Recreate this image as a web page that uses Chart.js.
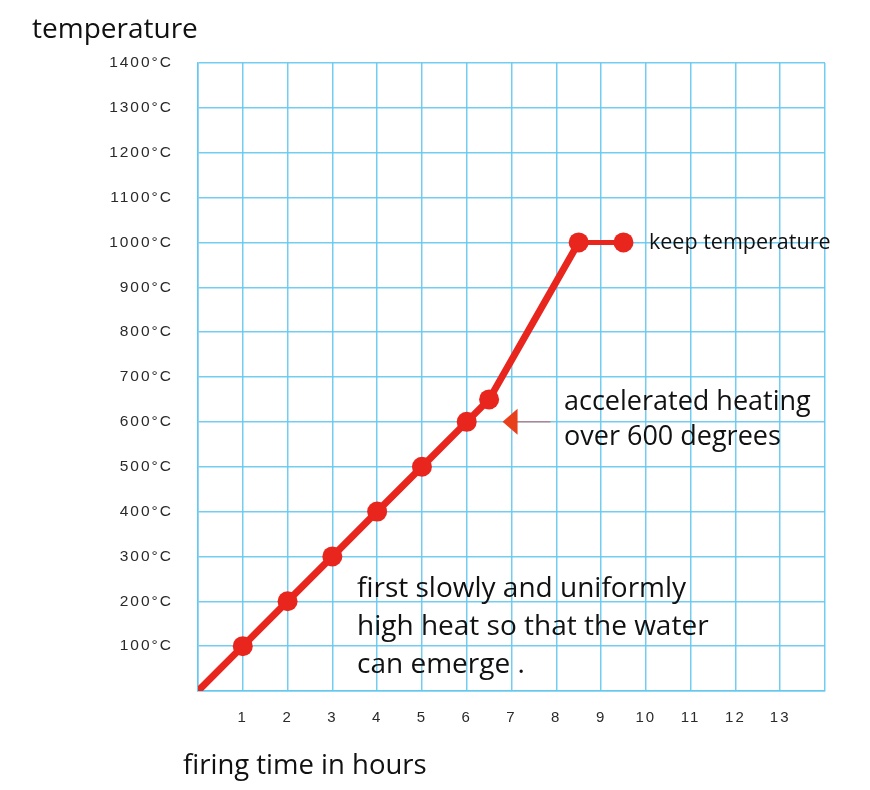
<!DOCTYPE html>
<html>
<head>
<meta charset="utf-8">
<script src="https://cdn.jsdelivr.net/npm/chart.js@4/dist/chart.umd.min.js"></script>
<style>
  html, body { margin: 0; padding: 0; background: #ffffff; }
  #wrap { width: 870px; height: 790px; position: relative; }
</style>
</head>
<body>
<div id="wrap"><canvas id="c" width="870" height="790"></canvas></div>
<script>
// ---- data ----
const hours = [0, 1, 2, 3, 4, 5, 6, 6.5, 8.5, 9.5];
const temps = [0, 100, 200, 300, 400, 500, 600, 650, 1000, 1000];
const xTickLabels = ['', '1', '2', '3', '4', '5', '6', '7', '8', '9', '10', '11', '12', '13', ''];
const yTickValues = [100, 200, 300, 400, 500, 600, 700, 800, 900, 1000, 1100, 1200, 1300, 1400];
const yUnit = '°C';
const yAxisTitle = 'temperature';
const xAxisTitle = 'firing time in hours';
const noteKeep = ['keep temperature'];
const noteAccel = ['accelerated heating', 'over 600 degrees'];
const noteSlow = ['first slowly and uniformly', 'high heat so that the water', 'can emerge .'];
const arrowAt = { x: 6.8, y: 600 };

const RED = '#e8261e';
const GRID = 'rgba(100,200,238,0.9)';
const TEXT_FONT = '"Open Sans", "Noto Sans", sans-serif';

const textPlugin = {
  id: 'texts',
  beforeDraw(chart) {
    chart.ctx.letterSpacing = '2px';
  },
  afterDraw(chart) {
    const ctx = chart.ctx;
    const xs = chart.scales.x, ys = chart.scales.y;
    ctx.save();
    ctx.letterSpacing = '0px';
    ctx.fillStyle = '#111';
    ctx.textAlign = 'left';
    ctx.textBaseline = 'alphabetic';

    ctx.font = '28px ' + TEXT_FONT;
    ctx.fillText(yAxisTitle, 32, 38);
    ctx.font = '27.5px ' + TEXT_FONT;
    ctx.fillText(xAxisTitle, 183, 774);

    ctx.font = '21.5px ' + TEXT_FONT;
    noteKeep.forEach((t, i) => ctx.fillText(t, 649, 249 + i * 30));

    ctx.font = '27px ' + TEXT_FONT;
    noteAccel.forEach((t, i) => ctx.fillText(t, 564, 410 + i * 35));

    ctx.font = '28px ' + TEXT_FONT;
    noteSlow.forEach((t, i) => ctx.fillText(t, 357, 597 + i * 38));

    // arrow annotation
    const ax = xs.getPixelForValue(arrowAt.x);
    const ay = ys.getPixelForValue(arrowAt.y);
    ctx.strokeStyle = 'rgba(215,80,80,0.85)';
    ctx.lineWidth = 1;
    ctx.beginPath();
    ctx.moveTo(ax + 14, ay);
    ctx.lineTo(ax + 48, ay);
    ctx.stroke();
    ctx.fillStyle = '#e8401c';
    ctx.beginPath();
    ctx.moveTo(ax, ay);
    ctx.lineTo(ax + 15, ay - 13);
    ctx.lineTo(ax + 15, ay + 13);
    ctx.closePath();
    ctx.fill();
    ctx.restore();
  }
};

new Chart(document.getElementById('c'), {
  type: 'line',
  data: {
    datasets: [{
      data: hours.map((h, i) => ({ x: h, y: temps[i] })),
      borderColor: RED,
      backgroundColor: RED,
      borderWidth: 7,
      borderCapStyle: 'butt',
      pointRadius: (c) => c.dataIndex === 0 ? 0 : 10,
      pointHoverRadius: (c) => c.dataIndex === 0 ? 0 : 10,
      pointBorderWidth: 0,
      pointBackgroundColor: RED,
      tension: 0,
      segment: {
        borderWidth: (c) => c.p0.parsed.y === c.p1.parsed.y ? 5 : 7
      }
    }]
  },
  options: {
    responsive: false,
    animation: false,
    events: [],
    layout: { padding: { left: 0, top: 63, right: 45, bottom: 0 } },
    plugins: { legend: { display: false }, tooltip: { enabled: false }, title: { display: false } },
    scales: {
      x: {
        type: 'linear',
        min: 0, max: 14,
        afterFit(s) { s.height = 99; },
        afterBuildTicks(s) { s.ticks = xTickLabels.map((_, i) => ({ value: i })); },
        ticks: {
          stepSize: 1,
          autoSkip: false,
          maxRotation: 0,
          padding: 18,
          color: '#2a2a2a',
          font: { family: '"Liberation Sans", Arial, sans-serif', size: 15 },
          callback: (v, i) => xTickLabels[i]
        },
        grid: { color: GRID, lineWidth: 1.5, drawTicks: false },
        border: { color: GRID, width: 1.5 }
      },
      y: {
        type: 'linear',
        min: 0, max: 1400,
        afterFit(s) { s.width = 198; },
        afterBuildTicks(s) { s.ticks = [0].concat(yTickValues).map(v => ({ value: v })); },
        ticks: {
          stepSize: 100,
          autoSkip: false,
          padding: 25,
          color: '#2a2a2a',
          font: { family: '"Liberation Sans", Arial, sans-serif', size: 15.5 },
          callback: (v) => yTickValues.includes(v) ? v + yUnit : ''
        },
        grid: { color: GRID, lineWidth: 1.5, drawTicks: false },
        border: { color: GRID, width: 1.5 }
      }
    }
  },
  plugins: [textPlugin]
});
</script>
</body>
</html>
